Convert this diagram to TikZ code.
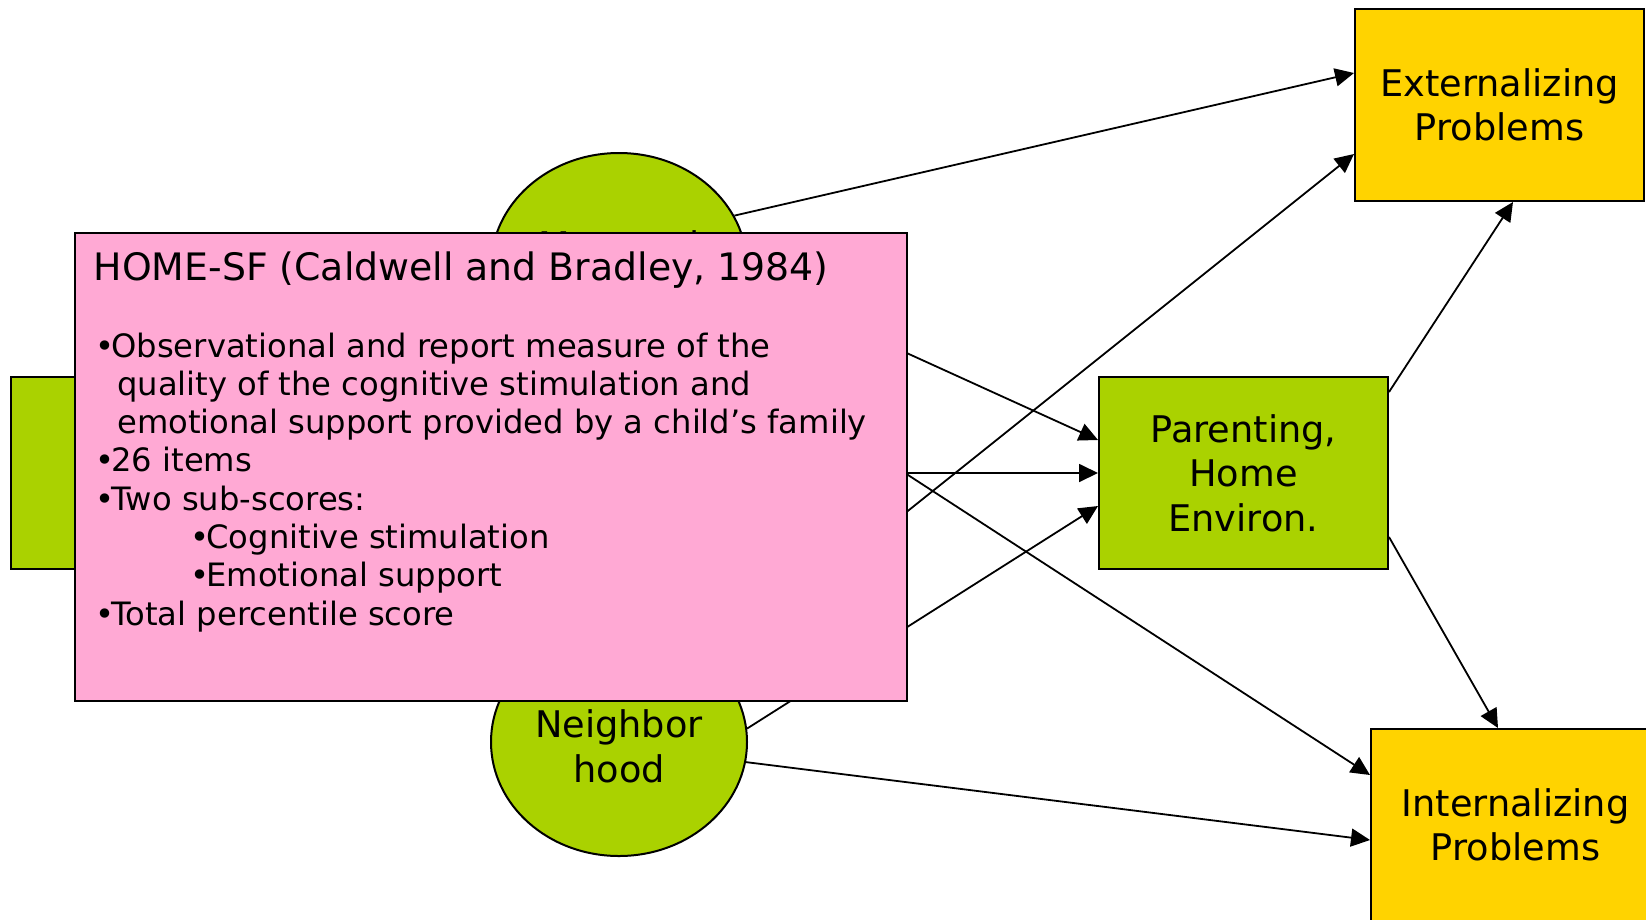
\documentclass[tikz,border=0pt]{standalone}
\usepackage{fontspec}
\setmainfont{DejaVu Sans}
\usetikzlibrary{arrows.meta,shapes.geometric}
\definecolor{nodegreen}{RGB}{170,210,0}
\definecolor{boxyellow}{RGB}{255,211,0}
\definecolor{notepink}{RGB}{255,169,212}
\newcommand\dgNodeFont{\fontsize{36.7}{44.5}\selectfont}
\newcommand\dgBodyFont{\fontsize{32.2}{38}\selectfont}
\newcommand\dgTitleFont{\fontsize{37.8}{44}\selectfont}
\newcommand\dgBul{\makebox[11.2pt][l]{\kern-4.7pt•}}
\begin{document}
\begin{tikzpicture}[x=1pt,y=-1pt,
  gbox/.style={rectangle,draw=black,line width=2pt,fill=nodegreen,minimum width=289pt,minimum height=192pt,inner sep=0pt,align=center,font=\dgNodeFont},
  ybox/.style={rectangle,draw=black,line width=2pt,fill=boxyellow,minimum width=289pt,minimum height=192pt,inner sep=0pt,align=center,font=\dgNodeFont},
  ell/.style={ellipse,draw=black,line width=2pt,fill=nodegreen,minimum width=256pt,minimum height=228pt,inner sep=0pt},
  elltext/.style={inner sep=0pt,align=center,font=\dgNodeFont},
  conn/.style={line width=1.8pt,-{Triangle[length=19pt,width=18pt]}},
  notebox/.style={rectangle,draw=black,line width=1.5pt,fill=notepink,minimum width=832pt,minimum height=468pt,inner sep=0pt},
  body/.style={inner sep=0pt,anchor=base west,font=\dgBodyFont},
  ttl/.style={inner sep=0pt,anchor=base west,font=\dgTitleFont}]
\useasboundingbox (0,0) rectangle (1646,919);
\clip (0,0) rectangle (1646,919);
\fill[white] (0,0) rectangle (1646,919);
% nodes
\node[gbox] (poverty) at (155.5,473) {};
\node[ell] (mat) at (619,267) {};
\node[elltext,anchor=base] (matlabel) at (619,258) {Maternal};
\node[ell] (nb) at (619,742) {};
\node[elltext,anchor=north] (nblabel) at (619,709.5) {Neighbor\\hood};
\node[gbox] (par) at (1243.5,473) {Parenting,\\Home\\Environ.};
\node[ybox] (ext) at (1499.5,105) {Externalizing\\Problems};
\node[ybox] (int) at (1515.5,825) {Internalizing\\Problems};
% connectors
\draw[conn] (mat.24) -- ([yshift=32pt]ext.west);
\draw[conn] (mat.-6) -- ([yshift=33pt]par.west);
\draw[conn] (mat.-41) -- ([yshift=50pt]int.west);
\draw[conn] (poverty) -- (par);
\draw[conn] (nb) -- ([yshift=-49pt]ext.west);
\draw[conn] (nb.6) -- ([yshift=-33pt]par.west);
\draw[conn] (nb.-9) -- ([yshift=-15pt]int.west);
\draw[conn] ([yshift=81pt]par.east) -- ([xshift=13.5pt]ext.south);
\draw[conn] ([yshift=-64pt]par.east) -- ([xshift=-17.5pt]int.north);
% overlay note
\node[notebox] (note) at (491,467) {};
\node[ttl] (t0) at (93.5,280) {HOME-SF (Caldwell and Bradley, 1984)};
\node[body] (t1) at (100,357) {\dgBul Observational and report measure of the};
\node[body] (t2) at (117,395.3) {quality of the cognitive stimulation and};
\node[body] (t3) at (117,433.6) {emotional support provided by a child’s family};
\node[body] (t4) at (100,471.9) {\dgBul 26 items};
\node[body] (t5) at (100,510.2) {\dgBul Two sub-scores:};
\node[body] (t6) at (195,548.5) {\dgBul Cognitive stimulation};
\node[body] (t7) at (195,586.8) {\dgBul Emotional support};
\node[body] (t8) at (100,625.1) {\dgBul Total percentile score};
\end{tikzpicture}
\end{document}
